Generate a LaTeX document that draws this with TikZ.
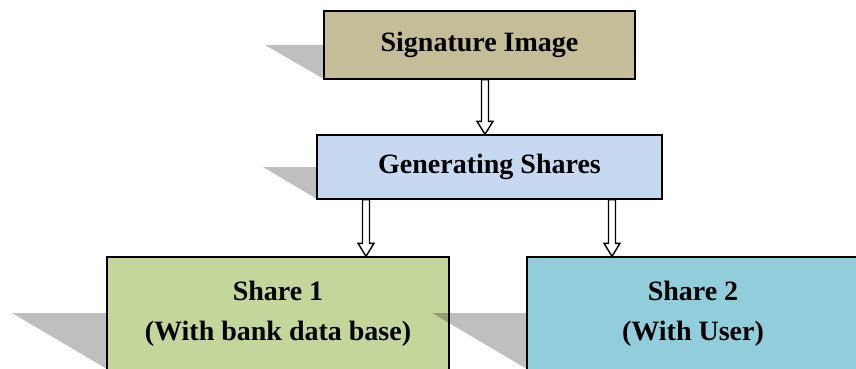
\documentclass[tikz,border=0pt]{standalone}
\usepackage{fontspec}
\setmainfont{Liberation Serif}
\usetikzlibrary{calc}
\definecolor{sigc}{HTML}{C4BD97}
\definecolor{genc}{HTML}{C6D9F1}
\definecolor{sh1c}{HTML}{C3D69B}
\definecolor{sh2c}{HTML}{92CDDC}
\tikzset{
  boxnode/.style={draw=black, line width=1.4pt, rectangle, inner sep=0pt, align=center,
    font=\fontsize{28}{40}\selectfont\bfseries},
  shadowfill/.style={fill=black, fill opacity=0.25},
  arrline/.style={draw=black, line width=1.4pt, fill=white, line join=miter},
}
\newcommand\hollowarr[2]{%
  \draw[arrline] ($(#1)+(-3.5,0)$) -- ($(#2)+(-3.5,-13)$) -- ($(#2)+(-8,-13)$) -- (#2)
    -- ($(#2)+(8,-13)$) -- ($(#2)+(3.5,-13)$) -- ($(#1)+(3.5,0)$) -- cycle;}
\begin{document}
\begin{tikzpicture}[x=1pt,y=-1pt]
\useasboundingbox (0,0) rectangle (856,369);
% Signature Image
\fill[shadowfill] (324,45) -- (265,45) -- (324,79) -- cycle;
\node[boxnode, fill=sigc, minimum width=311pt, minimum height=68pt] (sig) at (479.5,45) {Signature Image};
% Generating Shares
\fill[shadowfill] (317,167) -- (263,167) -- (317,199) -- cycle;
\node[boxnode, fill=genc, minimum width=345pt, minimum height=64pt] (gen) at (489.5,167) {Generating Shares};
% Share 1
\fill[shadowfill] (107,313) -- (12,313) -- (107,369) -- cycle;
\node[boxnode, fill=sh1c, minimum width=342pt, minimum height=113pt] (s1) at (278,313.5) {Share 1\\(With bank data base)};
% Share 2
\fill[shadowfill] (527,313) -- (432,313) -- (527,369) -- cycle;
\node[boxnode, fill=sh2c, minimum width=332pt, minimum height=113pt] (s2) at (693,313.5) {Share 2\\(With User)};
% arrows
\coordinate (ax1) at (485,0);
\coordinate (ax2) at (366,0);
\coordinate (ax3) at (612,0);
\path (sig.south -| ax1) coordinate (a1s) (gen.north -| ax1) coordinate (a1e);
\path (gen.south -| ax2) coordinate (a2s) (s1.north -| ax2) coordinate (a2e);
\path (gen.south -| ax3) coordinate (a3s) (s2.north -| ax3) coordinate (a3e);
\hollowarr{a1s}{a1e}
\hollowarr{a2s}{a2e}
\hollowarr{a3s}{a3e}
\end{tikzpicture}
\end{document}
